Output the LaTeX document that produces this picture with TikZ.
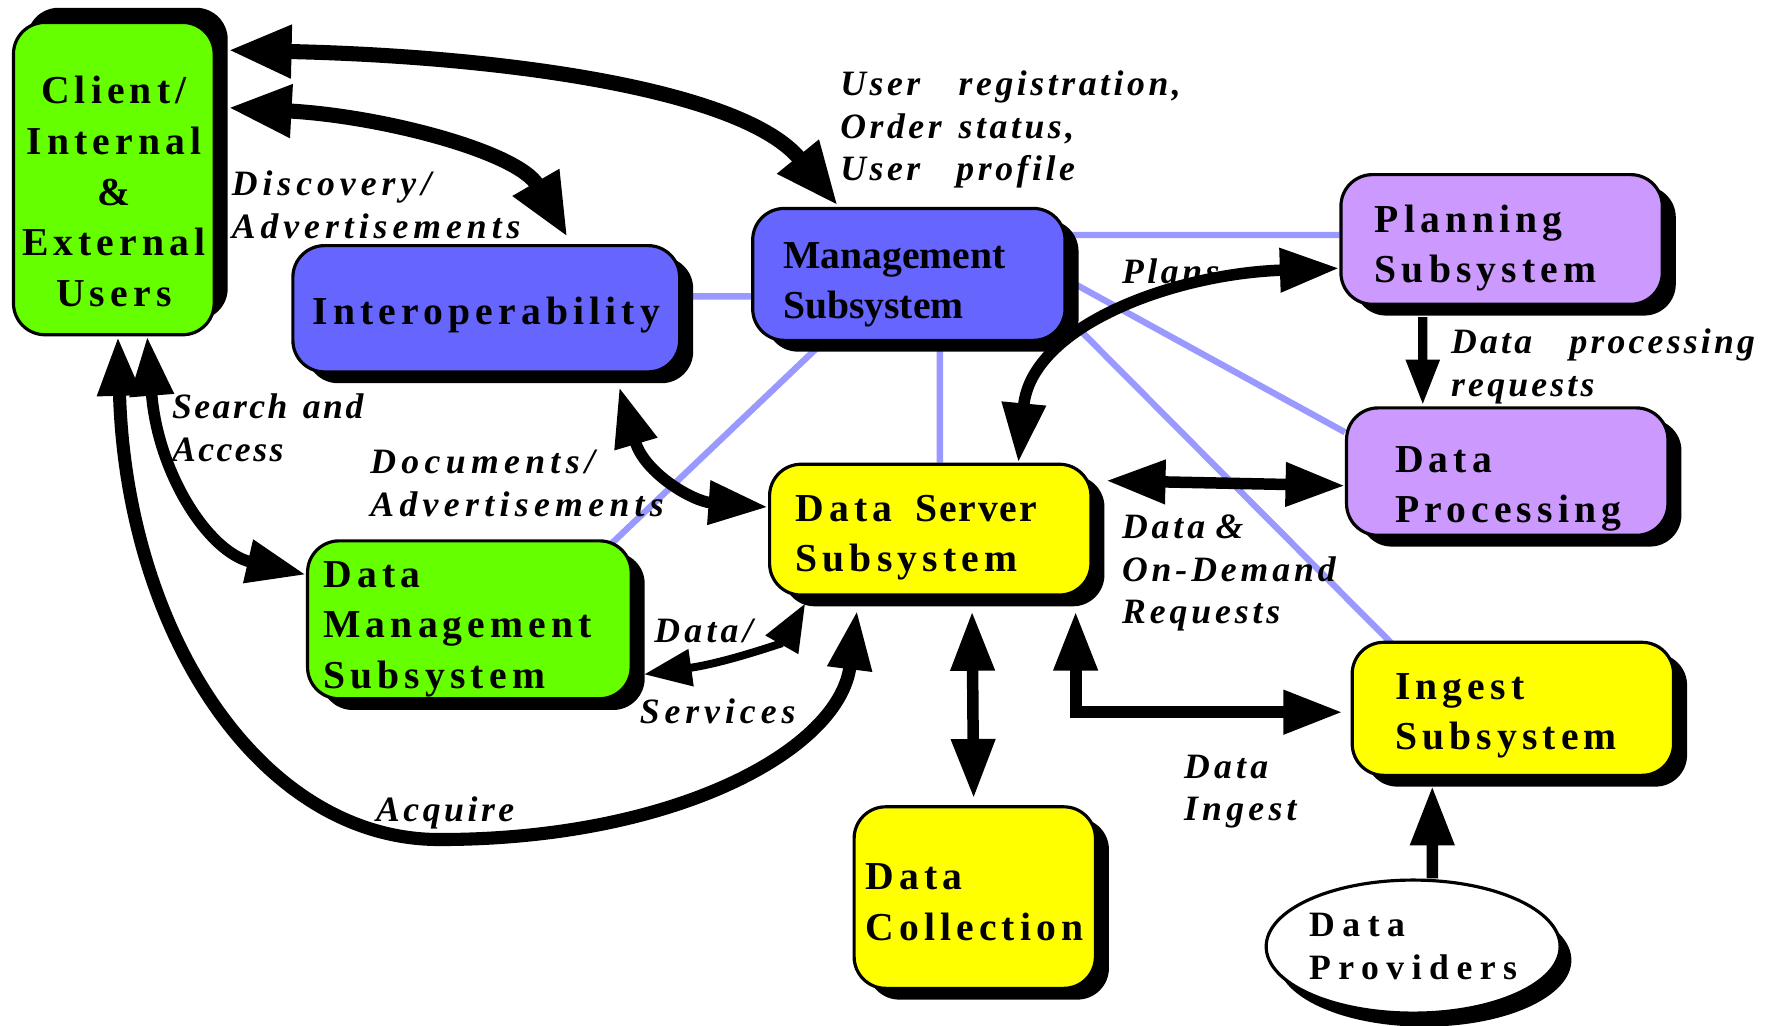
\documentclass[tikz,border=0pt]{standalone}
\usepackage{fontspec}
\setmainfont{Liberation Serif}
\usetikzlibrary{arrows.meta,shadows,backgrounds,shapes.geometric}

\definecolor{usergreen}{HTML}{66FF00}
\definecolor{sysblue}{HTML}{6666FF}
\definecolor{planpurple}{HTML}{CC99FF}
\definecolor{serveryellow}{HTML}{FFFF00}
\definecolor{linkblue}{HTML}{9999FF}

% invisible strut that sets the height of a box's first text line
\newcommand{\boxstrut}[1]{\rule{0pt}{#1}}

\begin{document}
\begin{tikzpicture}[x=0.01cm, y=-0.01cm,
  every node/.style={inner sep=0pt},
  boxbase/.style={draw=black, line width=0.8pt, rounded corners=0.28cm,
    font=\rmfamily\bfseries\fontsize{10}{12.8}\selectfont\addfontfeatures{LetterSpace=13}},
  box/.style={boxbase,
    drop shadow={shadow xshift=0.12cm, shadow yshift=-0.10cm, fill=black, opacity=1}},
  boxup/.style={boxbase,
    drop shadow={shadow xshift=0.12cm, shadow yshift=0.13cm, fill=black, opacity=1}},
  lbl/.style={anchor=north west, align=left,
    font=\rmfamily\bfseries\itshape\fontsize{9}{10.8}\selectfont\addfontfeatures{LetterSpace=#1}},
  lbl/.default=12,
  link/.style={draw=linkblue, line width=1.6pt},
  flow/.style={line width=2.9pt,
    arrows={Triangle[length=15pt,width=10.5pt]-Triangle[length=15pt,width=10.5pt]}},
  bigflow/.style={line width=3.8pt,
    arrows={Triangle[length=16pt,width=12.5pt]-Triangle[length=16pt,width=12.5pt]}},
  oneway/.style={line width=2.9pt, arrows={-Triangle[length=15pt,width=10.5pt]}}
]
\useasboundingbox (0,0) rectangle (1568,910);

% ---- subsystems ----
\node[boxup, fill=usergreen, minimum width=1.78cm, minimum height=2.77cm, align=center]
  (client) at (101,158.5) {\boxstrut{0.475cm}Client/\\Internal\\\&\\External\\Users};
\node[box, fill=sysblue, minimum width=3.43cm, minimum height=1.12cm]
  (interop) at (431.5,274) {\boxstrut{0.355cm}Interoperability};
\node[box, fill=sysblue, minimum width=2.77cm, minimum height=1.17cm, align=left, text width=2.23cm,
  font=\rmfamily\bfseries\fontsize{10}{12.8}\selectfont]
  (mgmt) at (806.5,243.5) {\boxstrut{0.415cm}Management\\Subsystem};
\node[box, fill=planpurple, minimum width=2.85cm, minimum height=1.15cm, align=left, text width=2.25cm]
  (plan) at (1332.5,212.5) {\boxstrut{0.395cm}Planning\\Subsystem};
\node[box, fill=planpurple, minimum width=2.85cm, minimum height=1.13cm, align=left, text width=1.99cm]
  (dproc) at (1337.5,418.5) {\boxstrut{0.535cm}Data\\Processing};
\node[box, fill=serveryellow, minimum width=2.85cm, minimum height=1.16cm, align=left, text width=2.39cm]
  (dserv) at (825.5,470)
  {\boxstrut{0.375cm}\makebox[1.06cm][l]{Data}{\addfontfeatures{LetterSpace=5}Server}\\Subsystem};
\node[box, fill=usergreen, minimum width=2.87cm, minimum height=1.40cm, align=left, text width=2.59cm]
  (dmgmt) at (416.5,550) {\boxstrut{0.395cm}Data\\Management\\Subsystem};
\node[box, fill=serveryellow, minimum width=2.14cm, minimum height=1.61cm, align=left, text width=1.94cm]
  (dcoll) at (865,796.5) {\boxstrut{0.315cm}Data\\Collection};
\node[box, fill=serveryellow, minimum width=2.85cm, minimum height=1.18cm, align=left, text width=2.09cm]
  (ingest) at (1342.5,629) {\boxstrut{0.355cm}Ingest\\Subsystem};
\node[ellipse, draw=black, fill=white, line width=0.8pt, minimum width=2.54cm, minimum height=1.18cm,
  drop shadow={shadow xshift=0.10cm, shadow yshift=-0.12cm, fill=black, opacity=1},
  align=left, font=\rmfamily\bfseries\fontsize{9}{10.8}\selectfont\addfontfeatures{LetterSpace=21}]
  (prov) at (1254,840) {Data\\Providers};

% ---- thin links to the management subsystem ----
\begin{scope}[on background layer]
  \fill[white] (0,0) rectangle (1568,910);
  \draw[link] ([yshift=0.11cm]interop.east) -- ([yshift=-0.195cm]mgmt.west);
  \draw[link] ([yshift=0.35cm]mgmt.east) -- ([yshift=0.04cm]plan.west);
  \draw[link] ([yshift=-0.045cm]mgmt.east) -- ([yshift=-0.23cm]dproc.north west);
  \draw[link] ([yshift=-0.375cm]mgmt.east) -- ([xshift=0.36cm,yshift=-0.02cm]ingest.north west);
  \draw[link] ([xshift=0.275cm]mgmt.south) -- ([xshift=0.085cm]dserv.north);
  \draw[link] ([xshift=0.64cm]mgmt.south west) -- ([xshift=-0.19cm,yshift=-0.04cm]dmgmt.north east);
\end{scope}

% ---- flow labels ----
\node[lbl=10] (lusr) at (745,62)
  {\makebox[1.05cm][l]{User}registration,\\\makebox[1.05cm][l]{Order}status,\\\makebox[1.03cm][l]{User}profile};
\node[lbl=14] (ldisc) at (205,151) {Discovery/\\Advertisements};
\node[lbl=10] (lplans) at (995,229) {Plans};
\node[lbl=9] (ldpr) at (1287,291) {\makebox[1.05cm][l]{Data}processing\\requests};
\node[lbl=7] (lsearch) at (152,349) {\makebox[1.16cm][l]{Search}and\\Access};
\node[lbl=15] (ldocs) at (328,399) {Documents/\\Advertisements};
\node[lbl=11] (lreq) at (995,456) {\makebox[0.83cm][l]{Data}\&\\On-Demand\\Requests};
\node[lbl=12] (ldata) at (580,549) {Data/};
\node[lbl=14] (lserv) at (567,619) {Services};
\node[lbl=10] (lacq) at (333,706) {Acquire};
\node[lbl=12] (lingest) at (1050,669) {Data\\Ingest};

% ---- data flows ----
\draw[bigflow] ([xshift=0.11cm,yshift=-0.26cm]client.north east)
  .. controls (450,50) and (660,80) .. ([xshift=0.77cm,yshift=0.01cm]mgmt.north west);
\draw[bigflow] ([xshift=0.11cm,yshift=-0.77cm]client.north east)
  .. controls (340,103) and (460,135) .. ([xshift=2.45cm,yshift=0.06cm]interop.north west);
\draw[flow] ([xshift=1.20cm]client.south west)
  .. controls (140,420) and (185,490) .. ([yshift=0.40cm]dmgmt.west);
\coordinate (acqlow) at (390,745);
\draw[flow, line width=3.3pt] ([xshift=0.94cm]client.south west)
  .. controls (112,560) and (230,745) .. (acqlow)
  .. controls (600,745) and (745,665) .. ([xshift=0.79cm,yshift=-0.12cm]dserv.south west);
\draw[flow] ([xshift=-0.55cm,yshift=-0.12cm]interop.south east)
  .. controls (572,420) and (615,445) .. ([yshift=0.20cm]dserv.west);
\draw[line width=2pt, arrows={Triangle[length=12pt,width=9pt]-Triangle[length=12pt,width=9pt]}]
  ([xshift=0.10cm,yshift=0.23cm]dmgmt.south east)
  .. controls (645,588) and (695,570) .. ([xshift=0.33cm,yshift=-0.06cm]dserv.south west);
\draw[flow] ([xshift=2.22cm]dserv.north west)
  .. controls (915,290) and (1040,243) .. ([yshift=-0.255cm]plan.west);
\draw[flow] ([xshift=0.12cm,yshift=-0.16cm]dserv.north east) -- ([yshift=-0.125cm]dproc.west);
\draw[flow] ([xshift=1.81cm,yshift=-0.13cm]dserv.south west) -- ([xshift=-0.01cm,yshift=0.06cm]dcoll.north);
\draw[flow, line width=3pt] ([xshift=-0.15cm,yshift=-0.13cm]dserv.south east)
  |- ([xshift=-0.07cm,yshift=-0.03cm]ingest.west);
\draw[line width=2.35pt, arrows={-Triangle[length=11.5pt,width=8pt]}]
  ([xshift=0.74cm,yshift=-0.10cm]plan.south west) -- ([xshift=0.69cm,yshift=0.01cm]dproc.north west);
\draw[oneway] ([xshift=0.17cm]prov.north) -- ([xshift=-0.715cm,yshift=-0.08cm]ingest.south);
\end{tikzpicture}
\end{document}
